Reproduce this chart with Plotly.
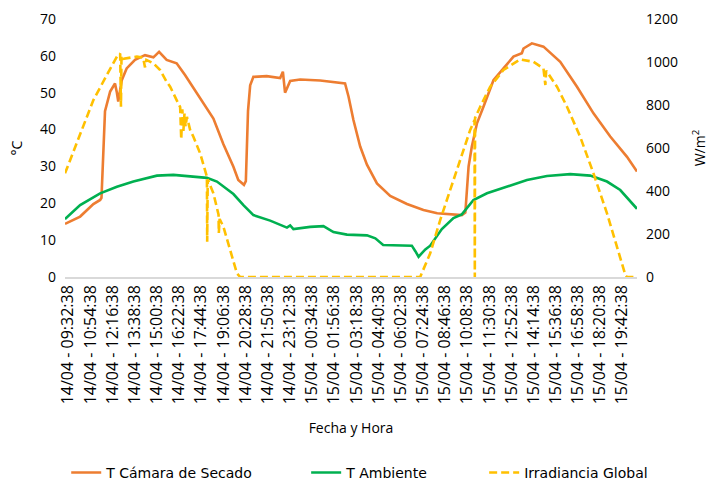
import plotly.graph_objects as go
from datetime import datetime

# ---------------- data ----------------
tick_labels = [
    "14/04 - 09:32:38", "14/04 - 10:54:38", "14/04 - 12:16:38", "14/04 - 13:38:38",
    "14/04 - 15:00:38", "14/04 - 16:22:38", "14/04 - 17:44:38", "14/04 - 19:06:38",
    "14/04 - 20:28:38", "14/04 - 21:50:38", "14/04 - 23:12:38", "15/04 - 00:34:38",
    "15/04 - 01:56:38", "15/04 - 03:18:38", "15/04 - 04:40:38", "15/04 - 06:02:38",
    "15/04 - 07:24:38", "15/04 - 08:46:38", "15/04 - 10:08:38", "15/04 - 11:30:38",
    "15/04 - 12:52:38", "15/04 - 14:14:38", "15/04 - 15:36:38", "15/04 - 16:58:38",
    "15/04 - 18:20:38", "15/04 - 19:42:38",
]

camara_time = [
    "14/04 09:21", "14/04 10:17", "14/04 11:06", "14/04 11:31", "14/04 11:36", "14/04 11:49",
    "14/04 12:08", "14/04 12:26", "14/04 12:33", "14/04 12:38", "14/04 12:51", "14/04 13:09",
    "14/04 13:40", "14/04 14:17", "14/04 14:48", "14/04 15:09", "14/04 15:37", "14/04 16:14",
    "14/04 16:45", "14/04 17:22", "14/04 17:59", "14/04 18:30", "14/04 19:07", "14/04 19:44",
    "14/04 20:02", "14/04 20:23", "14/04 20:30", "14/04 20:38", "14/04 20:46", "14/04 20:58",
    "14/04 21:47", "14/04 22:37", "14/04 22:47", "14/04 22:55", "14/04 23:14", "14/04 23:51",
    "15/04 01:05", "15/04 02:07", "15/04 02:37", "15/04 02:50", "15/04 03:08", "15/04 03:33",
    "15/04 03:58", "15/04 04:35", "15/04 05:24", "15/04 06:26", "15/04 07:27", "15/04 08:18",
    "15/04 09:49", "15/04 10:02", "15/04 10:14", "15/04 10:26", "15/04 10:45", "15/04 11:09",
    "15/04 11:46", "15/04 12:23", "15/04 13:00", "15/04 13:31", "15/04 13:37", "15/04 14:08",
    "15/04 14:51", "15/04 15:53", "15/04 16:55", "15/04 17:56", "15/04 18:58", "15/04 20:00",
    "15/04 20:37",
]
camara_val = [
    14.4, 16.4, 19.8, 20.9, 21.5, 45.0,
    50.3, 52.5, 50.0, 47.6, 53.4, 56.6,
    58.9, 60.2, 59.6, 61.1, 58.9, 58.0,
    54.8, 50.7, 46.5, 43.0, 36.0, 29.9,
    26.3, 25.0, 26.0, 45.0, 52.0, 54.3,
    54.5, 54.0, 55.7, 50.0, 53.2, 53.6,
    53.3, 52.7, 52.5, 48.9, 42.6, 35.4,
    30.5, 25.4, 22.0, 19.8, 18.2, 17.3,
    16.8, 17.5, 30.0, 35.4, 41.7, 46.2,
    53.4, 56.6, 59.8, 60.7, 62.0, 63.4,
    62.5, 58.4, 51.6, 44.4, 38.1, 32.6,
    28.6,
]

ambiente_time = [
    "14/04 09:21", "14/04 10:17", "14/04 11:31", "14/04 12:33", "14/04 13:34", "14/04 15:01",
    "14/04 16:02", "14/04 17:16", "14/04 18:06", "14/04 18:43", "14/04 19:44", "14/04 20:21",
    "14/04 20:58", "14/04 22:00", "14/04 23:02", "14/04 23:14", "14/04 23:26", "15/04 00:28",
    "15/04 01:17", "15/04 01:54", "15/04 02:44", "15/04 03:58", "15/04 04:29", "15/04 04:58",
    "15/04 06:44", "15/04 06:57", "15/04 07:09", "15/04 07:34", "15/04 07:52", "15/04 08:35",
    "15/04 09:18", "15/04 09:49", "15/04 10:32", "15/04 11:22", "15/04 12:36", "15/04 13:50",
    "15/04 15:04", "15/04 16:30", "15/04 17:44", "15/04 18:46", "15/04 19:35", "15/04 20:37",
]
ambiente_val = [
    15.7, 19.5, 22.7, 24.5, 25.9, 27.5,
    27.7, 27.2, 26.9, 25.9, 22.5, 19.5,
    16.8, 15.3, 13.4, 14.0, 13.0, 13.6,
    13.8, 12.2, 11.5, 11.3, 10.5, 8.7,
    8.5, 7.0, 5.5, 7.5, 8.5, 13.0,
    16.0, 17.0, 20.9, 22.7, 24.5, 26.3,
    27.4, 27.9, 27.5, 25.9, 23.6, 18.5,
]

irrad_time = [
    "14/04 09:21", "14/04 10:17", "14/04 11:06", "14/04 11:56", "14/04 12:33", "14/04 12:45",
    "14/04 12:48", "14/04 12:50", "14/04 12:57", "14/04 13:47", "14/04 14:10", "14/04 14:17",
    "14/04 14:22", "14/04 14:48", "14/04 15:13", "14/04 15:37", "14/04 15:50", "14/04 16:14",
    "14/04 16:27", "14/04 16:31", "14/04 16:35", "14/04 16:39", "14/04 16:43", "14/04 16:47",
    "14/04 16:52", "14/04 17:04", "14/04 17:16", "14/04 17:41", "14/04 18:06", "14/04 18:07",
    "14/04 18:09", "14/04 18:30", "14/04 18:36", "14/04 18:49", "14/04 18:50", "14/04 18:53",
    "14/04 19:07", "14/04 19:32", "14/04 19:57", "14/04 20:09", "15/04 07:15", "15/04 07:52",
    "15/04 08:29", "15/04 09:06", "15/04 09:43", "15/04 10:20", "15/04 10:36", "15/04 10:37",
    "15/04 10:38", "15/04 10:57", "15/04 11:34", "15/04 12:23", "15/04 13:25", "15/04 14:14",
    "15/04 14:51", "15/04 14:58", "15/04 15:01", "15/04 15:41", "15/04 16:18", "15/04 17:07",
    "15/04 17:56", "15/04 18:46", "15/04 19:23", "15/04 19:54", "15/04 20:00", "15/04 20:37",
]
irrad_val = [
    482, 668, 823, 940, 1025, 1040,
    792, 1030, 1015, 1025, 1020, 975,
    1010, 994, 963, 908, 885, 823,
    790, 640, 780, 680, 760, 700,
    745, 684, 652, 575, 466, 164,
    455, 389, 358, 290, 205, 270,
    234, 120, 17, 0, 0, 110,
    265, 405, 544, 684, 730, 0,
    740, 792, 885, 963, 1012, 1001,
    970, 893, 960, 885, 792, 652,
    482, 296, 141, 9, 0, 0,
]

# ---------------- helpers ----------------
def parse(s):
    return datetime.strptime("2024/" + s, "%Y/%d/%m %H:%M")

def parse_tick(s):
    return datetime.strptime("2024/" + s, "%Y/%d/%m - %H:%M:%S")

FONT = "Open Sans, sans-serif"
LEG_FONT = dict(family="DejaVu Sans, sans-serif", size=14)

fig = go.Figure()
fig.add_trace(go.Scatter(
    x=[parse(t) for t in camara_time], y=camara_val, name="T Cámara de Secado",
    mode="lines", line=dict(color="#ED7D31", width=2.6), yaxis="y", legend="legend"))
fig.add_trace(go.Scatter(
    x=[parse(t) for t in ambiente_time], y=ambiente_val, name="T Ambiente",
    mode="lines", line=dict(color="#00B050", width=2.6), yaxis="y", legend="legend2"))
fig.add_trace(go.Scatter(
    x=[parse(t) for t in irrad_time], y=irrad_val, name="Irradiancia Global",
    mode="lines", line=dict(color="#FFC000", width=2.6, dash="8px,4px"), yaxis="y2",
    legend="legend3"))

def leg(xpos):
    return dict(orientation="h", xref="container", yref="container",
                x=xpos, xanchor="left", y=0.033, yanchor="middle", font=LEG_FONT)

fig.update_layout(
    width=712, height=489,
    margin=dict(l=65, r=75, t=19, b=212, autoexpand=False),
    paper_bgcolor="white", plot_bgcolor="white",
    font=dict(family=FONT, size=13, color="#000000"),
    showlegend=True,
    legend=leg(0.093),
    legend2=leg(0.430),
    legend3=leg(0.680),
    xaxis=dict(
        type="date", automargin=False,
        range=[parse(camara_time[0]), parse(camara_time[-1])],
        tickvals=[parse_tick(t) for t in tick_labels],
        ticktext=tick_labels,
        tickangle=-90,
        tickfont=dict(size=16),
        showgrid=False, zeroline=False,
        showline=True, linecolor="#d9d9d9", linewidth=1.5,
        ticks="",
        title=dict(text="Fecha y Hora", font=dict(size=14), standoff=20),
    ),
    yaxis=dict(
        range=[0, 70], dtick=10, showgrid=False, zeroline=False, automargin=False,
        tickfont=dict(size=14), ticks="", showline=False, ticklabelstandoff=8,
        title=dict(text="°C", font=dict(size=14), standoff=14),
    ),
    yaxis2=dict(
        range=[0, 1200], dtick=200, overlaying="y", side="right", automargin=False,
        showgrid=False, zeroline=False, tickfont=dict(size=14), ticks="",
        ticklabelstandoff=8,
        title=dict(text="W/m<sup>2</sup>", font=dict(size=14), standoff=18),
    ),
)

fig.write_html("out.html", config={"displayModeBar": False},
               post_script="document.body.style.margin='0px';")
